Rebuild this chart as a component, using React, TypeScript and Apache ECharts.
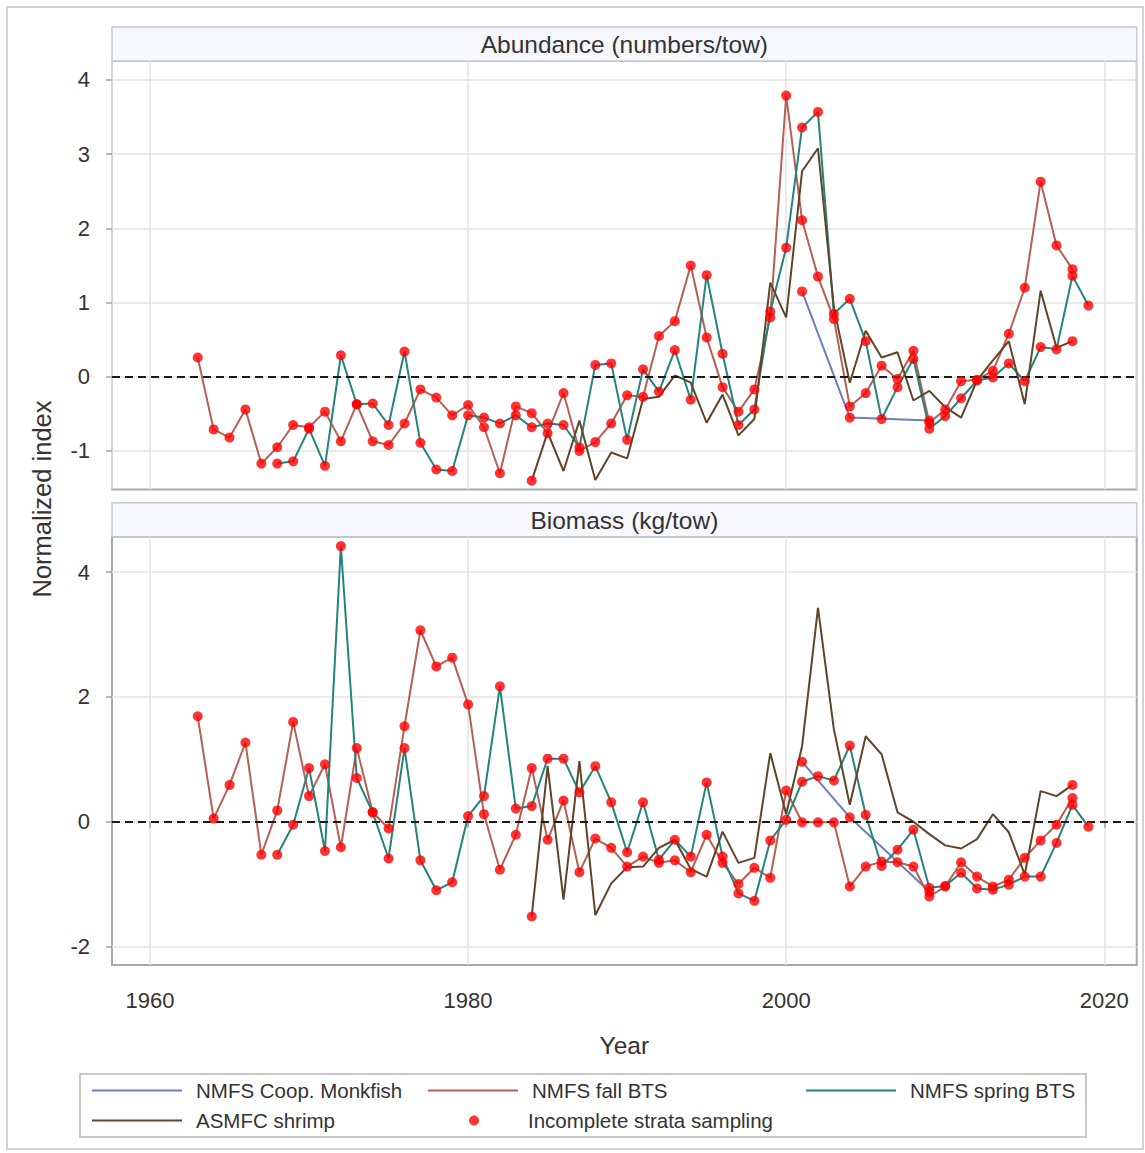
import React, { useEffect, useRef } from "react";
import * as echarts from "echarts";

const FONT = "'Liberation Sans', Arial, Helvetica, sans-serif";

function span(a: number, b: number): number[] {
  const r: number[] = [];
  for (let y = a; y <= b; y++) r.push(y);
  return r;
}

// Years for each survey
const fallYears = span(1963, 2018);
const springYears = span(1968, 2019);
const shrimpYears = span(1984, 2018);
const monkYears = [2001, 2004, 2009];
const shrimpIncompleteYears = [1984, 2018];

// Abundance (numbers/tow)
const abundFall = [
  0.26, -0.71, -0.82, -0.44, -1.17, -0.95, -0.65, -0.68, -0.47, -0.87,
  -0.37, -0.87, -0.92, -0.63, -0.17, -0.28, -0.52, -0.38, -0.68, -1.3,
  -0.4, -0.49, -0.76, -0.22, -1.0, -0.88, -0.63, -0.25, -0.27, 0.55,
  0.75, 1.5, 0.53, -0.14, -0.47, -0.17, 0.8, 3.79, 2.11, 1.35,
  0.78, -0.4, -0.22, 0.15, -0.03, 0.35, -0.62, -0.44, -0.06, -0.04,
  0.08, 0.58, 1.2, 2.63, 1.77, 1.45,
];
const abundSpring = [
  -1.17, -1.14, -0.7, -1.2, 0.29, -0.37, -0.36, -0.65, 0.34, -0.89,
  -1.25, -1.27, -0.52, -0.55, -0.63, -0.52, -0.68, -0.63, -0.65, -0.95,
  0.16, 0.18, -0.85, 0.1, -0.2, 0.36, -0.31, 1.37, 0.31, -0.65,
  -0.44, 0.88, 1.74, 3.36, 3.57, 0.85, 1.05, 0.48, -0.57, -0.14,
  0.24, -0.7, -0.53, -0.29, -0.05, -0.01, 0.18, -0.06, 0.4, 0.37,
  1.36, 0.96,
];
const abundShrimp = [
  -1.4, -0.75, -1.27, -0.59, -1.39, -1.02, -1.1, -0.3, -0.27, 0.02,
  -0.08, -0.62, -0.24, -0.79, -0.57, 1.27, 0.8, 2.77, 3.08, 0.93,
  -0.08, 0.62, 0.26, 0.33, -0.32, -0.19, -0.41, -0.55, -0.05, 0.22,
  0.48, -0.37, 1.16, 0.39, 0.48,
];
const abundMonk = [1.15, -0.55, -0.59];

// Biomass (kg/tow)
const bioFall = [
  1.69, 0.05, 0.59, 1.27, -0.53, 0.18, 1.6, 0.41, 0.92, -0.41,
  1.18, 0.15, -0.11, 1.53, 3.07, 2.49, 2.63, 1.88, 0.12, -0.77,
  -0.21, 0.86, -0.29, 0.34, -0.81, -0.27, -0.42, -0.72, -0.56, -0.66,
  -0.62, -0.81, -0.21, -0.66, -1.0, -0.74, -0.9, 0.5, -0.01, -0.01,
  -0.01, -1.04, -0.72, -0.64, -0.65, -0.72, -1.2, -1.04, -0.65, -0.88,
  -1.04, -0.93, -0.58, -0.3, -0.05, 0.38,
];
const bioSpring = [
  -0.53, -0.05, 0.86, -0.47, 4.42, 0.7, 0.15, -0.59, 1.18, -0.62,
  -1.1, -0.97, 0.09, 0.41, 2.17, 0.21, 0.25, 1.01, 1.01, 0.47,
  0.89, 0.31, -0.49, 0.31, -0.61, -0.29, -0.56, 0.63, -0.56, -1.15,
  -1.27, -0.3, 0.03, 0.64, 0.73, 0.66, 1.22, 0.11, -0.71, -0.45,
  -0.13, -1.06, -1.03, -0.82, -1.07, -1.09, -1.01, -0.88, -0.88, -0.34,
  0.27, -0.08,
];
const bioShrimp = [
  -1.52, 0.89, -1.25, 0.97, -1.5, -0.99, -0.73, -0.72, -0.42, -0.29,
  -0.76, -0.88, -0.16, -0.66, -0.58, 1.1, 0.12, 1.21, 3.43, 1.48,
  0.27, 1.37, 1.08, 0.15, 0.0, -0.2, -0.38, -0.43, -0.28, 0.12,
  -0.17, -0.85, 0.49, 0.41, 0.59,
];
const bioMonk = [0.96, 0.07, -1.12];

const panelTitles = ["Abundance (numbers/tow)", "Biomass (kg/tow)"];
const xTicks = [1960, 1980, 2000, 2020];
const yTicksTop = [-1, 0, 1, 2, 3, 4];
const yTicksBottom = [-2, 0, 2, 4];

const NAME_MONK = "NMFS Coop. Monkfish";
const NAME_FALL = "NMFS fall BTS";
const NAME_SPRING = "NMFS spring BTS";
const NAME_SHRIMP = "ASMFC shrimp";
const NAME_DOTS = "Incomplete strata sampling";

const C_MONK = "#6e7dbb";
const C_FALL = "#b65f54";
const C_SPRING = "#23847b";
const C_SHRIMP = "#5f4528";
const C_DOT = "#ff0000";

const pairs = (years: number[], vals: number[]) => years.map((y, i) => [y, vals[i]]);

const dotsFor = (fall: number[], spring: number[], monk: number[], shrimp: number[]) => [
  ...pairs(fallYears, fall),
  ...pairs(springYears, spring),
  ...pairs(monkYears, monk),
  ...shrimpIncompleteYears.map((y) => [y, shrimp[shrimpYears.indexOf(y)]]),
];

// layout
const GL = 112;
const GR = 1136.7;
const TOP1 = 61;
const TOP2 = 536.7;
const GH = 428.4;

export default function App() {
  const ref = useRef<HTMLDivElement>(null);
  useEffect(() => {
    if (!ref.current) return;
    const chart = echarts.init(ref.current, undefined, { renderer: "svg" });

    const gridLine = { show: true, lineStyle: { color: "#e3e3e3", width: 1.5 } };
    const tickStyle = { show: true, length: 6, lineStyle: { color: "#9aa1a8", width: 1.5 } };
    const labelStyle = { fontSize: 22, color: "#333", fontFamily: FONT };

    const xBase = {
      type: "value",
      min: 1957.61,
      max: 2022.04,
      minInterval: 20,
      maxInterval: 20,
      splitNumber: 3,
      axisLine: { show: false },
      splitLine: gridLine,
    };

    const lineSeries = (
      name: string,
      color: string,
      years: number[],
      vals: number[],
      idx: number,
      extra: any = {}
    ) => ({
      type: "line",
      name,
      xAxisIndex: idx,
      yAxisIndex: idx,
      data: pairs(years, vals),
      color,
      showSymbol: false,
      symbol: "none",
      lineStyle: { color, width: 2 },
      itemStyle: { color },
      z: 2,
      ...extra,
    });

    const zeroLine = {
      markLine: {
        silent: true,
        symbol: ["none", "none"],
        label: { show: false },
        lineStyle: { color: "#1a1a1a", type: [8, 5], width: 2 },
        data: [{ yAxis: 0 }],
      },
    };

    const panelSeries = (
      idx: number,
      fall: number[],
      spring: number[],
      monk: number[],
      shrimp: number[]
    ) => [
      lineSeries(NAME_MONK, C_MONK, monkYears, monk, idx),
      lineSeries(NAME_FALL, C_FALL, fallYears, fall, idx, zeroLine),
      lineSeries(NAME_SPRING, C_SPRING, springYears, spring, idx),
      lineSeries(NAME_SHRIMP, C_SHRIMP, shrimpYears, shrimp, idx),
      {
        type: "scatter",
        name: NAME_DOTS,
        xAxisIndex: idx,
        yAxisIndex: idx,
        data: dotsFor(fall, spring, monk, shrimp),
        symbol: "circle",
        symbolSize: 10,
        itemStyle: { color: C_DOT },
        color: C_DOT,
        z: 5,
      },
    ];

    const legendItem = (
      name: string,
      left: number,
      top: number,
      icon: string,
      w: number,
      h: number,
      padLeft: number
    ) => ({
      show: true,
      data: [name],
      left,
      top,
      padding: 0,
      icon,
      itemWidth: w,
      itemHeight: h,
      selectedMode: false,
      textStyle: { fontSize: 20.5, color: "#333", fontFamily: FONT, padding: [0, 0, 0, padLeft] },
      itemStyle: { borderWidth: 0 },
      lineStyle: { width: 0 },
    });

    const headerRect = (y: number) => ({
      type: "rect",
      shape: { x: GL, y, width: GR - GL, height: 34 },
      style: { fill: "#f7f8fd", stroke: "#c6cbd0", lineWidth: 1.5 },
      z: 0,
    });
    const headerText = (y: number, text: string) => ({
      type: "text",
      x: (GL + GR) / 2,
      y,
      style: {
        text,
        fontSize: 24.5,
        fontFamily: FONT,
        fill: "#333",
        align: "center",
        verticalAlign: "middle",
        textAlign: "center",
        textVerticalAlign: "middle",
      },
      z: 10,
    });

    const option: any = {
      animation: false,
      backgroundColor: "#fff",
      textStyle: { fontFamily: FONT },
      grid: [
        { left: GL, top: TOP1, width: GR - GL, height: GH, show: true, borderColor: "#a3aab1", borderWidth: 2, backgroundColor: "#fff" },
        { left: GL, top: TOP2, width: GR - GL, height: GH, show: true, borderColor: "#a3aab1", borderWidth: 2, backgroundColor: "#fff" },
      ],
      xAxis: [
        { ...xBase, gridIndex: 0, axisLabel: { show: false }, axisTick: { show: false } },
        {
          ...xBase,
          gridIndex: 1,
          axisTick: { ...tickStyle, customValues: xTicks },
          axisLabel: {
            ...labelStyle,
            margin: 24,
            customValues: xTicks,
            formatter: (v: number) => String(Math.round(v)),
          },
          name: "Year",
          nameLocation: "middle",
          nameGap: 68,
          nameTextStyle: { fontSize: 24.5, color: "#333", fontFamily: FONT },
        },
      ],
      yAxis: [
        {
          type: "value",
          gridIndex: 0,
          min: -1.518,
          max: 4.256,
          minInterval: 1,
          maxInterval: 1,
          axisLine: { show: false },
          splitLine: gridLine,
          axisTick: { ...tickStyle, customValues: yTicksTop },
          axisLabel: { ...labelStyle, margin: 22, customValues: yTicksTop, formatter: (v: number) => String(Math.round(v)) },
        },
        {
          type: "value",
          gridIndex: 1,
          min: -2.3,
          max: 4.57,
          minInterval: 2,
          maxInterval: 2,
          axisLine: { show: false },
          splitLine: gridLine,
          axisTick: { ...tickStyle, customValues: yTicksBottom },
          axisLabel: { ...labelStyle, margin: 22, customValues: yTicksBottom, formatter: (v: number) => String(Math.round(v)) },
        },
      ],
      legend: [
        legendItem(NAME_MONK, 92, 1080, "rect", 90, 2, 9),
        legendItem(NAME_FALL, 428, 1080, "rect", 90, 2, 9),
        legendItem(NAME_SPRING, 806, 1080, "rect", 90, 2, 9),
        legendItem(NAME_SHRIMP, 92, 1110, "rect", 90, 2, 9),
        legendItem(NAME_DOTS, 469, 1110, "circle", 10, 10, 44),
      ],
      graphic: [
        {
          type: "rect",
          shape: { x: 7, y: 7, width: 1136, height: 1142 },
          style: { fill: "none", stroke: "#d2d2d2", lineWidth: 2 },
          z: 0,
        },
        headerRect(27),
        headerRect(502.7),
        headerText(44, panelTitles[0]),
        headerText(520, panelTitles[1]),
        {
          type: "rect",
          shape: { x: 80, y: 1074, width: 1006, height: 63 },
          style: { fill: "none", stroke: "#c9c9c9", lineWidth: 2 },
          z: 0,
        },
        {
          type: "text",
          x: 42,
          y: 499,
          rotation: Math.PI / 2,
          style: {
            text: "Normalized index",
            fontSize: 25.5,
            fontFamily: FONT,
            fill: "#333",
            align: "center",
            verticalAlign: "middle",
            textAlign: "center",
            textVerticalAlign: "middle",
          },
          z: 10,
        },
      ],
      series: [
        ...panelSeries(0, abundFall, abundSpring, abundMonk, abundShrimp),
        ...panelSeries(1, bioFall, bioSpring, bioMonk, bioShrimp),
      ],
    };

    chart.setOption(option);
    return () => chart.dispose();
  }, []);

  return (
    <div
      ref={ref}
      style={{ position: "fixed", left: 0, top: 0, width: 1145, height: 1153, background: "#fff" }}
    />
  );
}
